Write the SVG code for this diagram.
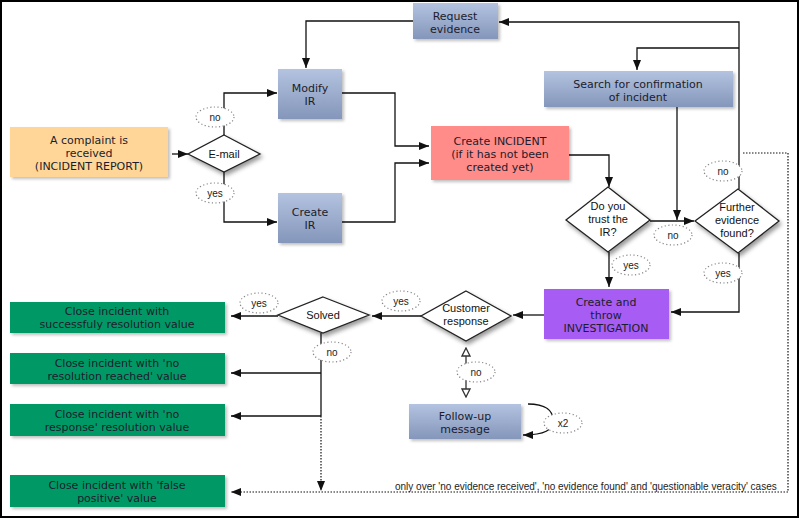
<svg xmlns="http://www.w3.org/2000/svg" width="800" height="519" viewBox="0 0 800 519">
<defs>
<linearGradient id="blue" x1="0" y1="0" x2="0" y2="1">
<stop offset="0" stop-color="#B3C3E0"/>
<stop offset="1" stop-color="#8496BA"/>
</linearGradient>
<filter id="sh" x="-20%" y="-20%" width="140%" height="150%">
<feDropShadow dx="2" dy="2" stdDeviation="1.5" flood-color="#000" flood-opacity="0.25"/>
</filter>
<filter id="dsh" x="-20%" y="-20%" width="140%" height="160%">
<feDropShadow dx="2" dy="3" stdDeviation="2" flood-color="#000" flood-opacity="0.4"/>
</filter>
<marker id="arr" viewBox="0 0 10 8" refX="10" refY="4" markerWidth="10" markerHeight="8" markerUnits="userSpaceOnUse" orient="auto">
<path d="M0,0 L10,4 L0,8 Z" fill="#111"/>
</marker>
<marker id="open" viewBox="0 0 10 10" refX="9" refY="5" markerWidth="10" markerHeight="10" markerUnits="userSpaceOnUse" orient="auto">
<path d="M1,1 L9,5 L1,9 Z" fill="#fff" stroke="#333" stroke-width="1.3"/>
</marker>
<marker id="openS" viewBox="0 0 10 10" refX="1" refY="5" markerWidth="10" markerHeight="10" markerUnits="userSpaceOnUse" orient="auto">
<path d="M9,1 L1,5 L9,9 Z" fill="#fff" stroke="#333" stroke-width="1.3"/>
</marker>
</defs>
<style>
.box{filter:url(#sh)}
.bl{fill:url(#blue)}
.dia{fill:#fff;stroke:#222;stroke-width:1.3;filter:url(#dsh)}
.t{font-family:"DejaVu Sans",Verdana,sans-serif;font-size:11px;fill:#1c1c2c;text-anchor:middle}
.d{font-family:"Liberation Sans",Arial,sans-serif;font-size:11px;fill:#111;text-anchor:middle}
.lb{font-family:"Liberation Sans",Arial,sans-serif;font-size:10px;fill:#222;text-anchor:middle}
.lbe{fill:#fff;stroke:#888;stroke-width:1.2;stroke-dasharray:1.2 2.4}
.c{fill:none;stroke:#111;stroke-width:1.3}
.ca{fill:none;stroke:#111;stroke-width:1.3;marker-end:url(#arr)}
.cd{fill:none;stroke:#111;stroke-width:1.2;stroke-dasharray:1.5 1.5;marker-end:url(#arr)}
.note{font-family:"Liberation Sans",Arial,sans-serif;font-size:10px;fill:#222}
</style>
<rect x="1" y="1" width="797" height="516" fill="#fff" stroke="#000" stroke-width="2"/>

<g id="connectors">
<path class="ca" d="M172,154 H188"/>
<path class="ca" d="M224,135 V93 H277"/>
<path class="ca" d="M224,172 V222 H277"/>
<path class="ca" d="M413,21 H306 V68"/>
<path class="ca" d="M342,93 H395 V146 H429"/>
<path class="ca" d="M342,222 H395 V163 H429"/>
<path class="ca" d="M569,155 H609 V187"/>
<path class="ca" d="M739,189 V22 H499"/>
<path class="ca" d="M739,48 H637 V70"/>
<path class="ca" d="M677,107 V220"/>
<path class="ca" d="M650,221 H694"/>
<path class="ca" d="M609,252 V287"/>
<path class="ca" d="M739,253 V312 H671"/>
<path class="ca" d="M544,315 H513"/>
<path class="ca" d="M421,316 H372"/>
<path class="ca" d="M278,316 H231"/>
<path class="c" d="M321,333 V416"/>
<path class="ca" d="M321,373 H231"/>
<path class="ca" d="M321,416 H231"/>
<path class="cd" d="M321,416 V491"/>
<path class="cd" d="M743,153 H788 V492 H231"/>
<path fill="none" stroke="#333" stroke-width="1.3" marker-start="url(#openS)" marker-end="url(#open)" d="M466,348 V397"/>
<path class="ca" d="M528,404 C546,404 553,411 553,420 C553,430 545,435 523,435"/>
</g>

<g id="labels">
<ellipse class="lbe" cx="215" cy="117" rx="19" ry="10"/><text class="lb" x="215" y="121">no</text>
<ellipse class="lbe" cx="215" cy="193" rx="19" ry="10"/><text class="lb" x="215" y="197">yes</text>
<ellipse class="lbe" cx="723" cy="171" rx="19" ry="10"/><text class="lb" x="723" y="175">no</text>
<ellipse class="lbe" cx="673" cy="235" rx="19" ry="10"/><text class="lb" x="673" y="239">no</text>
<ellipse class="lbe" cx="631" cy="265" rx="19" ry="10"/><text class="lb" x="631" y="269">yes</text>
<ellipse class="lbe" cx="723" cy="273" rx="19" ry="10"/><text class="lb" x="723" y="277">yes</text>
<ellipse class="lbe" cx="401" cy="301" rx="19" ry="10"/><text class="lb" x="401" y="305">yes</text>
<ellipse class="lbe" cx="259" cy="303" rx="19" ry="10"/><text class="lb" x="259" y="307">yes</text>
<ellipse class="lbe" cx="332" cy="352" rx="19" ry="10"/><text class="lb" x="332" y="356">no</text>
<ellipse class="lbe" cx="476" cy="372" rx="19" ry="10"/><text class="lb" x="476" y="376">no</text>
<ellipse class="lbe" cx="563" cy="423" rx="19" ry="10"/><text class="lb" x="563" y="427">x2</text>
<text class="note" x="395" y="490">only over 'no evidence received', 'no evidence found' and 'questionable veracity' cases</text>
</g>

<g id="complaint">
<rect class="box" x="10" y="127" width="158" height="50" fill="#FFD697"/>
<text class="t" x="89" y="144">A complaint is</text>
<text class="t" x="89" y="157">received</text>
<text class="t" x="89" y="170">(INCIDENT REPORT)</text>
</g>
<g id="email">
<polygon class="dia" points="224,135 260,154 224,172 188,154"/>
<text class="d" x="224" y="158">E-mail</text>
</g>
<g id="modify-ir">
<rect class="box bl" x="278" y="69" width="64" height="50"/>
<text class="t" x="310" y="92">Modify</text>
<text class="t" x="310" y="105">IR</text>
</g>
<g id="create-ir">
<rect class="box bl" x="278" y="193" width="64" height="50"/>
<text class="t" x="310" y="216">Create</text>
<text class="t" x="310" y="229">IR</text>
</g>
<g id="request-evidence">
<rect class="box bl" x="413" y="3" width="85" height="36"/>
<text class="t" x="455" y="20">Request</text>
<text class="t" x="455" y="33">evidence</text>
</g>
<g id="search">
<rect class="box bl" x="544" y="71" width="189" height="36"/>
<text class="t" x="638" y="88">Search for confirmation</text>
<text class="t" x="638" y="101">of incident</text>
</g>
<g id="create-incident">
<rect class="box" x="431" y="126" width="138" height="54" fill="#FF8C89"/>
<text class="t" x="500" y="145">Create INCIDENT</text>
<text class="t" x="500" y="158">(if it has not been</text>
<text class="t" x="500" y="171">created yet)</text>
</g>
<g id="trust">
<polygon class="dia" points="608,187 650,220 608,252 566,220"/>
<text class="d" x="608" y="210">Do you</text>
<text class="d" x="608" y="223">trust the</text>
<text class="d" x="608" y="236">IR?</text>
</g>
<g id="further">
<polygon class="dia" points="738,189 779,221 738,253 695,221"/>
<text class="d" x="737" y="211">Further</text>
<text class="d" x="737" y="224">evidence</text>
<text class="d" x="737" y="237">found?</text>
</g>
<g id="investigation">
<rect class="box" x="544" y="289" width="125" height="50" fill="#A75CF3"/>
<text class="t" x="606" y="306">Create and</text>
<text class="t" x="606" y="319">throw</text>
<text class="t" x="606" y="332">INVESTIGATION</text>
</g>
<g id="customer-response">
<polygon class="dia" points="466,291 511,316 466,341 421,316"/>
<text class="d" x="466" y="312">Customer</text>
<text class="d" x="466" y="325">response</text>
</g>
<g id="solved">
<polygon class="dia" points="323,297 369,315 323,333 278,315"/>
<text class="d" x="323" y="319">Solved</text>
</g>
<g id="follow-up">
<rect class="box bl" x="409" y="404" width="112" height="35"/>
<text class="t" x="465" y="420">Follow-up</text>
<text class="t" x="465" y="433">message</text>
</g>
<g id="close-success">
<rect class="box" x="10" y="302" width="215" height="31" fill="#009966"/>
<text class="t" x="117" y="315">Close incident with</text>
<text class="t" x="117" y="328">successfuly resolution value</text>
</g>
<g id="close-no-resolution">
<rect class="box" x="10" y="353" width="215" height="31" fill="#009966"/>
<text class="t" x="117" y="367">Close incident with 'no</text>
<text class="t" x="117" y="380">resolution reached' value</text>
</g>
<g id="close-no-response">
<rect class="box" x="10" y="404" width="215" height="32" fill="#009966"/>
<text class="t" x="117" y="418">Close incident with 'no</text>
<text class="t" x="117" y="431">response' resolution value</text>
</g>
<g id="close-false-positive">
<rect class="box" x="10" y="475" width="215" height="32" fill="#009966"/>
<text class="t" x="117" y="489">Close incident with 'false</text>
<text class="t" x="117" y="502">positive' value</text>
</g>
</svg>
